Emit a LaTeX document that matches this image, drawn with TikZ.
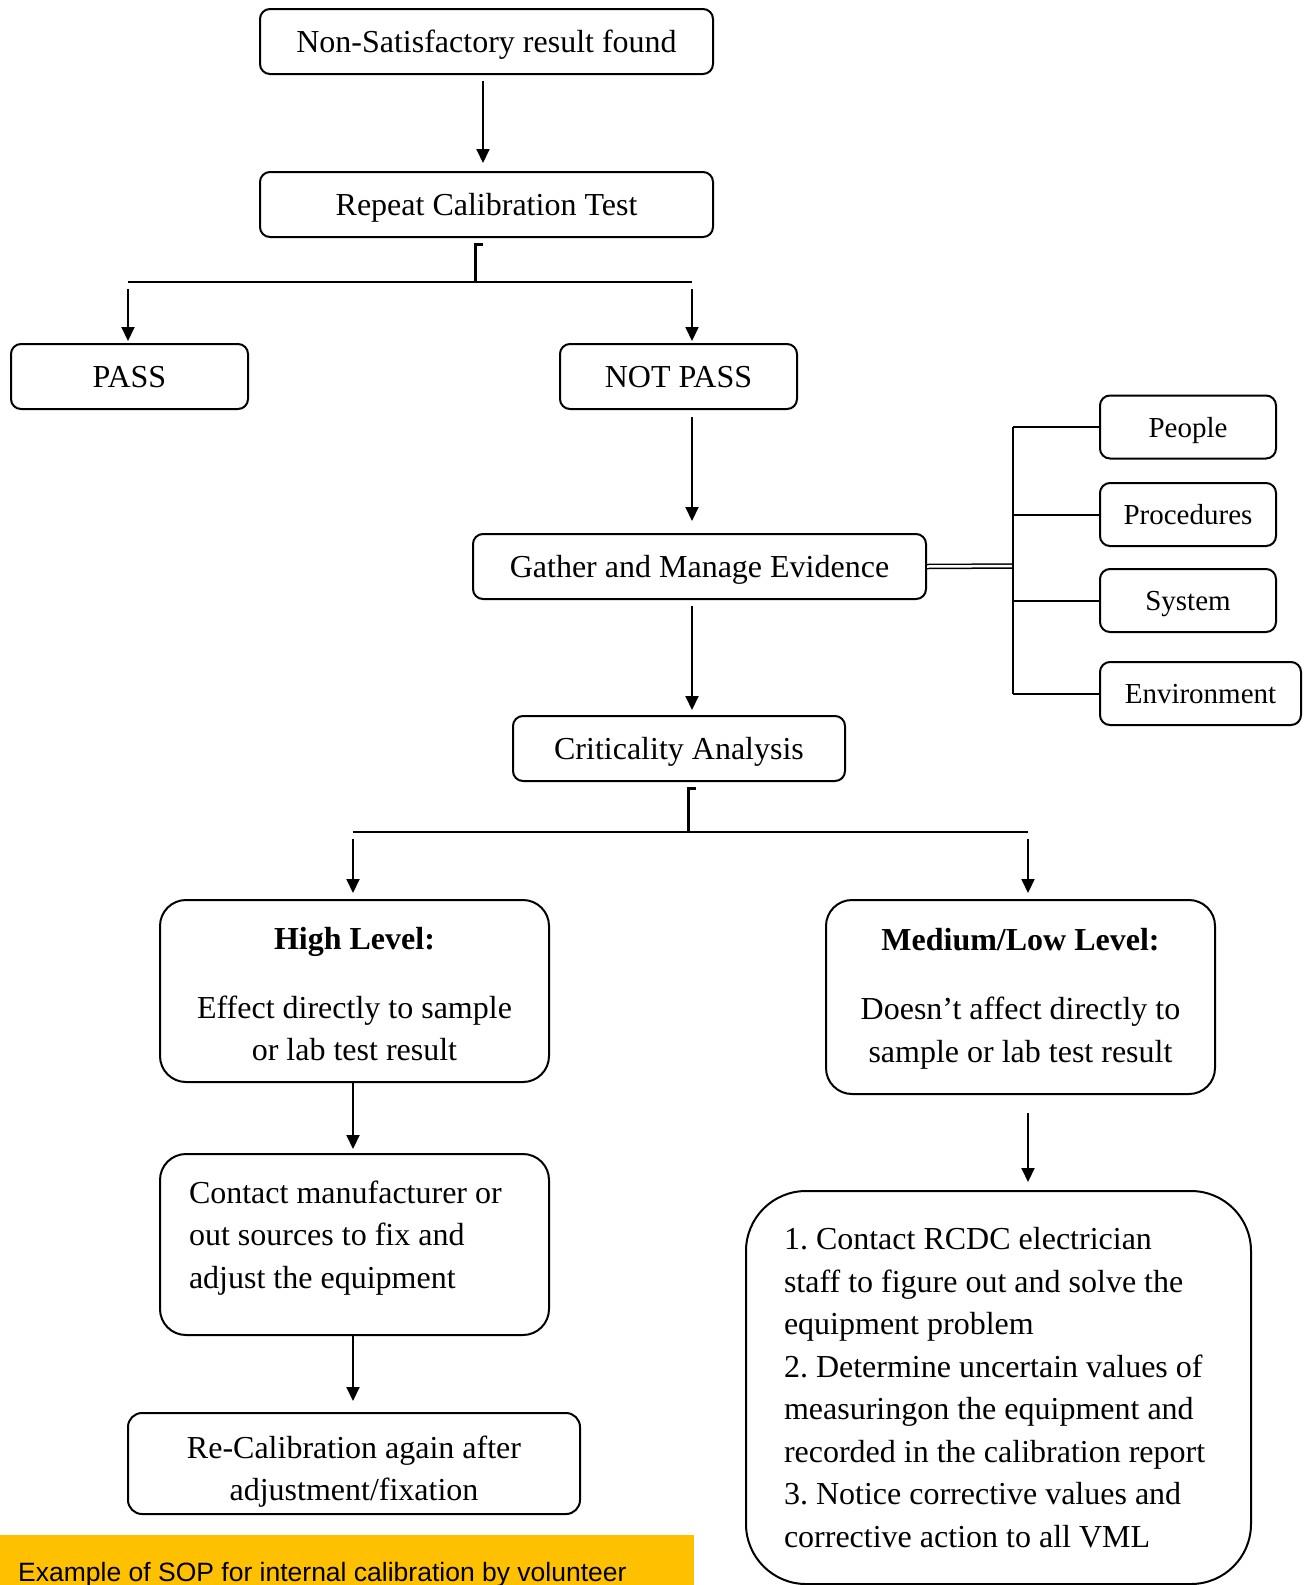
\documentclass[tikz,border=0pt]{standalone}
\usepackage{fontspec}
\setmainfont{Liberation Serif}
\newfontfamily\bannerfont{Liberation Sans}
\usetikzlibrary{arrows.meta,calc}
\definecolor{bannerorange}{HTML}{FFC000}
\frenchspacing

\begin{document}
\begin{tikzpicture}[x=1pt,y=-1pt,
	box/.style={draw,line width=2pt,rounded corners=10pt,inner sep=0pt,
	font=\fontsize{32}{42.5}\selectfont},
	single/.style={box,text height=29pt,text depth=7pt,minimum height=65pt},
	side/.style={box,font=\fontsize{29}{36}\selectfont,text height=26pt,text depth=6pt,minimum height=63pt},
	bigbox/.style={box,rounded corners=26pt,minimum width=389pt},
	words/.style={inner sep=0pt,font=\fontsize{32}{42.5}\selectfont},
	arr/.style={line width=2pt,-{Triangle[length=14pt,width=13pt]}},
	lin/.style={line width=2pt},
	brk/.style={line width=3pt}]
\useasboundingbox (0,0) rectangle (1308,1585);
\node [single,minimum width=453pt] (nsr) at (486.5,41.5) {Non-Satisfactory result found};
\node [single,minimum width=453pt] (repeat) at (486.5,204.5) {Repeat Calibration Test};
\node [single,minimum width=237pt] (pass) at (129.5,376.5) {PASS};
\node [single,minimum width=237pt] (notpass) at (678.5,376.5) {NOT PASS};
\node [single,minimum width=453pt] (gather) at (699.5,566.5) {Gather and Manage Evidence};
\node [side,minimum width=176pt] (people) at (1188,427) {People};
\node [side,minimum width=176pt] (procedures) at (1188,514.5) {Procedures};
\node [side,minimum width=176pt] (system) at (1188,600.5) {System};
\node [side,minimum width=201pt] (environment) at (1200.5,693.5) {Environment};
\node [single,minimum width=332pt] (critical) at (679,748.5) {Criticality Analysis};
\node [bigbox,minimum height=182pt] (high) at (354.5,991) {};
\node [words,align=center] (hightext) at ([yshift=-3pt]high.center)
	{\textbf{High Level:}\\[26.5pt]Effect directly to sample\\or lab test result};
\node [bigbox,minimum height=194pt] (medium) at (1020.5,997) {};
\node [words,align=center] (mediumtext) at ([yshift=-2pt]medium.center)
	{\textbf{Medium/Low Level:}\\[26.5pt]Doesn’t affect directly to\\sample or lab test result};
\node [bigbox,minimum height=181pt] (contact) at (354.5,1244.5) {};
\node [words,text width=331pt,align=flush left] (contacttext) at ([yshift=6.5pt]contact.center)
	{Contact manufacturer or\\out sources to fix and\\adjust the equipment};
\node [box,rounded corners=14pt,minimum width=452pt,minimum height=101pt] (recal) at (354,1463.5) {};
\node [words,align=center] (recaltext) at ([yshift=-8pt]recal.center)
	{Re-Calibration again after\\adjustment/fixation};
\node [box,rounded corners=60pt,minimum width=505pt,minimum height=393pt] (actions) at (998.5,1387.5) {};
\node [words,text width=440pt,align=flush left] (actionstext) at ([xshift=5.5pt]actions.center)
	{1. Contact RCDC electrician\\staff to figure out and solve the\\equipment problem\\
	2. Determine uncertain values of\\measuringon the equipment and\\recorded in the calibration report\\
	3. Notice corrective values and\\corrective action to all VML};
\node [fill=bannerorange,anchor=north west,minimum width=694pt,minimum height=60pt,inner sep=0pt] (banner) at (0,1535) {};
\node [anchor=base west,inner sep=0pt,font=\bannerfont\fontsize{26.5}{30}\selectfont] (bannertext) at (18,1581)
	{Example of SOP for internal calibration by volunteer};
\coordinate (j0) at (483,81);
\coordinate (j1) at (475,282);
\coordinate (j1l) at (128,282);
\coordinate (j1r) at (692,282);
\coordinate (tr) at (1013,566);
\coordinate (j2) at (688,832);
\coordinate (j2l) at (353,832);
\coordinate (j2r) at (1028,832);
\draw [arr,shorten >=8pt] (j0) -- (j0 |- repeat.north);
\draw [brk] ([xshift=8pt,yshift=-6pt]repeat.south -| j1) -- ([yshift=-6pt]repeat.south -| j1) -- (j1);
\draw [lin] (j1l) -- (j1r);
\draw [arr,shorten <=7pt,shorten >=2pt] (j1l) -- (j1l |- pass.north);
\draw [arr,shorten <=7pt,shorten >=2pt] (j1r) -- (j1r |- notpass.north);
\draw [arr,shorten <=7pt,shorten >=12pt] (j1r |- notpass.south) -- (j1r |- gather.north);
\draw [lin,line width=1.5pt,double,double distance=2.5pt] (gather.east) -- (tr);
\draw [lin] (people.west -| tr) -- (environment.west -| tr);
\foreach \n in {people,procedures,system,environment}
	\draw [lin] (\n.west -| tr) -- (\n.west);
\draw [arr,shorten <=6pt,shorten >=5pt] (j1r |- gather.south) -- (j1r |- critical.north);
\draw [brk] ([xshift=8pt,yshift=-6pt]critical.south -| j2) -- ([yshift=-6pt]critical.south -| j2) -- (j2);
\draw [lin] (j2l) -- (j2r);
\draw [arr,shorten <=7pt,shorten >=6pt] (j2l) -- (j2l |- high.north);
\draw [arr,shorten <=7pt,shorten >=6pt] (j2r) -- (j2r |- medium.north);
\draw [arr,shorten >=4pt] (j2l |- high.south) -- (j2l |- contact.north);
\draw [arr,shorten >=11pt] (j2l |- contact.south) -- (j2l |- recal.north);
\draw [arr,shorten <=18pt,shorten >=8pt] (j2r |- medium.south) -- (j2r |- actions.north);
\end{tikzpicture}
\end{document}
